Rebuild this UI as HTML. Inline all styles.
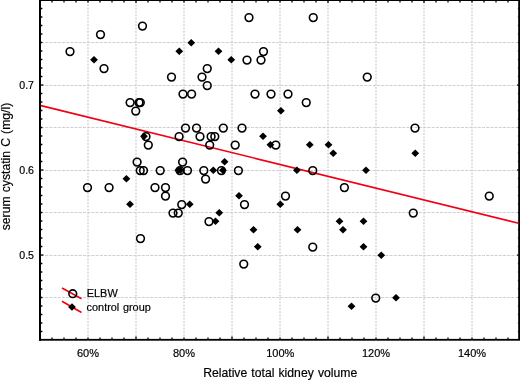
<!DOCTYPE html>
<html><head><meta charset="utf-8"><title>Scatter plot</title>
<style>
html,body{margin:0;padding:0;background:#fff;}
body{width:520px;height:380px;overflow:hidden;position:relative;font-family:"Liberation Sans",Arial,sans-serif;}
svg{position:absolute;left:0;top:0;display:block;}
text{font-family:"Liberation Sans",Arial,sans-serif;fill:#000;stroke:#000;stroke-width:0.18px;}
.tk{font-size:11px;}
.tky{font-size:10.6px;}
.lg{font-size:10.9px;word-spacing:0.6px;}
.ax{font-size:12.2px;word-spacing:0.75px;}
</style></head><body>
<svg width="520" height="380" viewBox="0 0 520 380">
<rect x="0" y="0" width="520" height="380" fill="#fff"/>
<g stroke="#c2c2c2" stroke-width="1" stroke-dasharray="2 1.3" fill="none"><line x1="88" y1="1" x2="88" y2="339"/><line x1="136" y1="1" x2="136" y2="339"/><line x1="184" y1="1" x2="184" y2="339"/><line x1="232" y1="1" x2="232" y2="339"/><line x1="280" y1="1" x2="280" y2="339"/><line x1="328" y1="1" x2="328" y2="339"/><line x1="376" y1="1" x2="376" y2="339"/><line x1="424" y1="1" x2="424" y2="339"/><line x1="472" y1="1" x2="472" y2="339"/></g>
<g stroke="#d0d0d0" stroke-width="1" stroke-dasharray="3 1.2" fill="none"><line x1="41" y1="42.5" x2="519" y2="42.5"/><line x1="41" y1="85.5" x2="519" y2="85.5"/><line x1="41" y1="127.5" x2="519" y2="127.5"/><line x1="41" y1="170.5" x2="519" y2="170.5"/><line x1="41" y1="212.5" x2="519" y2="212.5"/><line x1="41" y1="255.5" x2="519" y2="255.5"/><line x1="41" y1="297.5" x2="519" y2="297.5"/></g>
<g fill="#000"><rect x="39" y="0" width="2" height="340.7"/><rect x="39" y="338.9" width="481" height="1.8"/><rect x="39" y="0" width="481" height="1"/><rect x="518.2" y="0" width="1.8" height="340"/></g>
<g stroke="#000" stroke-width="1.3"><line x1="52" y1="337.6" x2="52" y2="339"/><line x1="52" y1="1" x2="52" y2="2.4"/><line x1="64" y1="337.6" x2="64" y2="339"/><line x1="64" y1="1" x2="64" y2="2.4"/><line x1="76" y1="337.6" x2="76" y2="339"/><line x1="76" y1="1" x2="76" y2="2.4"/><line x1="88" y1="337.6" x2="88" y2="339"/><line x1="88" y1="1" x2="88" y2="2.4"/><line x1="100" y1="337.6" x2="100" y2="339"/><line x1="100" y1="1" x2="100" y2="2.4"/><line x1="112" y1="337.6" x2="112" y2="339"/><line x1="112" y1="1" x2="112" y2="2.4"/><line x1="124" y1="337.6" x2="124" y2="339"/><line x1="124" y1="1" x2="124" y2="2.4"/><line x1="136" y1="336.4" x2="136" y2="339"/><line x1="136" y1="1" x2="136" y2="2.9"/><line x1="148" y1="337.6" x2="148" y2="339"/><line x1="148" y1="1" x2="148" y2="2.4"/><line x1="160" y1="337.6" x2="160" y2="339"/><line x1="160" y1="1" x2="160" y2="2.4"/><line x1="172" y1="337.6" x2="172" y2="339"/><line x1="172" y1="1" x2="172" y2="2.4"/><line x1="184" y1="337.6" x2="184" y2="339"/><line x1="184" y1="1" x2="184" y2="2.4"/><line x1="196" y1="337.6" x2="196" y2="339"/><line x1="196" y1="1" x2="196" y2="2.4"/><line x1="208" y1="337.6" x2="208" y2="339"/><line x1="208" y1="1" x2="208" y2="2.4"/><line x1="220" y1="337.6" x2="220" y2="339"/><line x1="220" y1="1" x2="220" y2="2.4"/><line x1="232" y1="336.4" x2="232" y2="339"/><line x1="232" y1="1" x2="232" y2="2.9"/><line x1="244" y1="337.6" x2="244" y2="339"/><line x1="244" y1="1" x2="244" y2="2.4"/><line x1="256" y1="337.6" x2="256" y2="339"/><line x1="256" y1="1" x2="256" y2="2.4"/><line x1="268" y1="337.6" x2="268" y2="339"/><line x1="268" y1="1" x2="268" y2="2.4"/><line x1="280" y1="337.6" x2="280" y2="339"/><line x1="280" y1="1" x2="280" y2="2.4"/><line x1="292" y1="337.6" x2="292" y2="339"/><line x1="292" y1="1" x2="292" y2="2.4"/><line x1="304" y1="337.6" x2="304" y2="339"/><line x1="304" y1="1" x2="304" y2="2.4"/><line x1="316" y1="337.6" x2="316" y2="339"/><line x1="316" y1="1" x2="316" y2="2.4"/><line x1="328" y1="336.4" x2="328" y2="339"/><line x1="328" y1="1" x2="328" y2="2.9"/><line x1="340" y1="337.6" x2="340" y2="339"/><line x1="340" y1="1" x2="340" y2="2.4"/><line x1="352" y1="337.6" x2="352" y2="339"/><line x1="352" y1="1" x2="352" y2="2.4"/><line x1="364" y1="337.6" x2="364" y2="339"/><line x1="364" y1="1" x2="364" y2="2.4"/><line x1="376" y1="337.6" x2="376" y2="339"/><line x1="376" y1="1" x2="376" y2="2.4"/><line x1="388" y1="337.6" x2="388" y2="339"/><line x1="388" y1="1" x2="388" y2="2.4"/><line x1="400" y1="337.6" x2="400" y2="339"/><line x1="400" y1="1" x2="400" y2="2.4"/><line x1="412" y1="337.6" x2="412" y2="339"/><line x1="412" y1="1" x2="412" y2="2.4"/><line x1="424" y1="336.4" x2="424" y2="339"/><line x1="424" y1="1" x2="424" y2="2.9"/><line x1="436" y1="337.6" x2="436" y2="339"/><line x1="436" y1="1" x2="436" y2="2.4"/><line x1="448" y1="337.6" x2="448" y2="339"/><line x1="448" y1="1" x2="448" y2="2.4"/><line x1="460" y1="337.6" x2="460" y2="339"/><line x1="460" y1="1" x2="460" y2="2.4"/><line x1="472" y1="337.6" x2="472" y2="339"/><line x1="472" y1="1" x2="472" y2="2.4"/><line x1="484" y1="337.6" x2="484" y2="339"/><line x1="484" y1="1" x2="484" y2="2.4"/><line x1="496" y1="337.6" x2="496" y2="339"/><line x1="496" y1="1" x2="496" y2="2.4"/><line x1="508" y1="337.6" x2="508" y2="339"/><line x1="508" y1="1" x2="508" y2="2.4"/><line x1="41" y1="8.5" x2="42.4" y2="8.5"/><line x1="517.9" y1="8.5" x2="518.5" y2="8.5"/><line x1="41" y1="17.0" x2="42.4" y2="17.0"/><line x1="517.9" y1="17.0" x2="518.5" y2="17.0"/><line x1="41" y1="25.5" x2="42.4" y2="25.5"/><line x1="517.9" y1="25.5" x2="518.5" y2="25.5"/><line x1="41" y1="34.0" x2="42.4" y2="34.0"/><line x1="517.9" y1="34.0" x2="518.5" y2="34.0"/><line x1="41" y1="42.5" x2="42.4" y2="42.5"/><line x1="517.9" y1="42.5" x2="518.5" y2="42.5"/><line x1="41" y1="51.0" x2="42.4" y2="51.0"/><line x1="517.9" y1="51.0" x2="518.5" y2="51.0"/><line x1="41" y1="59.5" x2="42.4" y2="59.5"/><line x1="517.9" y1="59.5" x2="518.5" y2="59.5"/><line x1="41" y1="68.0" x2="42.4" y2="68.0"/><line x1="517.9" y1="68.0" x2="518.5" y2="68.0"/><line x1="41" y1="76.5" x2="42.4" y2="76.5"/><line x1="517.9" y1="76.5" x2="518.5" y2="76.5"/><line x1="41" y1="85.0" x2="43.4" y2="85.0"/><line x1="517.2" y1="85.0" x2="518.5" y2="85.0"/><line x1="41" y1="93.5" x2="42.4" y2="93.5"/><line x1="517.9" y1="93.5" x2="518.5" y2="93.5"/><line x1="41" y1="102.0" x2="42.4" y2="102.0"/><line x1="517.9" y1="102.0" x2="518.5" y2="102.0"/><line x1="41" y1="110.5" x2="42.4" y2="110.5"/><line x1="517.9" y1="110.5" x2="518.5" y2="110.5"/><line x1="41" y1="119.0" x2="42.4" y2="119.0"/><line x1="517.9" y1="119.0" x2="518.5" y2="119.0"/><line x1="41" y1="127.5" x2="42.4" y2="127.5"/><line x1="517.9" y1="127.5" x2="518.5" y2="127.5"/><line x1="41" y1="136.0" x2="42.4" y2="136.0"/><line x1="517.9" y1="136.0" x2="518.5" y2="136.0"/><line x1="41" y1="144.5" x2="42.4" y2="144.5"/><line x1="517.9" y1="144.5" x2="518.5" y2="144.5"/><line x1="41" y1="153.0" x2="42.4" y2="153.0"/><line x1="517.9" y1="153.0" x2="518.5" y2="153.0"/><line x1="41" y1="161.5" x2="42.4" y2="161.5"/><line x1="517.9" y1="161.5" x2="518.5" y2="161.5"/><line x1="41" y1="170.0" x2="43.4" y2="170.0"/><line x1="517.2" y1="170.0" x2="518.5" y2="170.0"/><line x1="41" y1="178.5" x2="42.4" y2="178.5"/><line x1="517.9" y1="178.5" x2="518.5" y2="178.5"/><line x1="41" y1="187.0" x2="42.4" y2="187.0"/><line x1="517.9" y1="187.0" x2="518.5" y2="187.0"/><line x1="41" y1="195.5" x2="42.4" y2="195.5"/><line x1="517.9" y1="195.5" x2="518.5" y2="195.5"/><line x1="41" y1="204.0" x2="42.4" y2="204.0"/><line x1="517.9" y1="204.0" x2="518.5" y2="204.0"/><line x1="41" y1="212.5" x2="42.4" y2="212.5"/><line x1="517.9" y1="212.5" x2="518.5" y2="212.5"/><line x1="41" y1="221.0" x2="42.4" y2="221.0"/><line x1="517.9" y1="221.0" x2="518.5" y2="221.0"/><line x1="41" y1="229.5" x2="42.4" y2="229.5"/><line x1="517.9" y1="229.5" x2="518.5" y2="229.5"/><line x1="41" y1="238.0" x2="42.4" y2="238.0"/><line x1="517.9" y1="238.0" x2="518.5" y2="238.0"/><line x1="41" y1="246.5" x2="42.4" y2="246.5"/><line x1="517.9" y1="246.5" x2="518.5" y2="246.5"/><line x1="41" y1="255.0" x2="43.4" y2="255.0"/><line x1="517.2" y1="255.0" x2="518.5" y2="255.0"/><line x1="41" y1="263.5" x2="42.4" y2="263.5"/><line x1="517.9" y1="263.5" x2="518.5" y2="263.5"/><line x1="41" y1="272.0" x2="42.4" y2="272.0"/><line x1="517.9" y1="272.0" x2="518.5" y2="272.0"/><line x1="41" y1="280.5" x2="42.4" y2="280.5"/><line x1="517.9" y1="280.5" x2="518.5" y2="280.5"/><line x1="41" y1="289.0" x2="42.4" y2="289.0"/><line x1="517.9" y1="289.0" x2="518.5" y2="289.0"/><line x1="41" y1="297.5" x2="42.4" y2="297.5"/><line x1="517.9" y1="297.5" x2="518.5" y2="297.5"/><line x1="41" y1="306.0" x2="42.4" y2="306.0"/><line x1="517.9" y1="306.0" x2="518.5" y2="306.0"/><line x1="41" y1="314.5" x2="42.4" y2="314.5"/><line x1="517.9" y1="314.5" x2="518.5" y2="314.5"/><line x1="41" y1="323.0" x2="42.4" y2="323.0"/><line x1="517.9" y1="323.0" x2="518.5" y2="323.0"/><line x1="41" y1="331.5" x2="42.4" y2="331.5"/><line x1="517.9" y1="331.5" x2="518.5" y2="331.5"/></g>
<line x1="41" y1="105.6" x2="518.5" y2="223.2" stroke="#f00014" stroke-width="1.6"/>
<g fill="#000"><path d="M90.10 59.70L94.00 55.90L97.90 59.70L94.00 63.50Z"/><path d="M175.35 51.20L179.25 47.40L183.15 51.20L179.25 55.00Z"/><path d="M187.35 42.70L191.25 38.90L195.15 42.70L191.25 46.50Z"/><path d="M214.60 51.20L218.50 47.40L222.40 51.20L218.50 55.00Z"/><path d="M227.35 59.70L231.25 55.90L235.15 59.70L231.25 63.50Z"/><path d="M277.00 110.70L280.90 106.90L284.80 110.70L280.90 114.50Z"/><path d="M259.10 136.20L263.00 132.40L266.90 136.20L263.00 140.00Z"/><path d="M140.10 136.20L144.00 132.40L147.90 136.20L144.00 140.00Z"/><path d="M266.50 144.70L270.40 140.90L274.30 144.70L270.40 148.50Z"/><path d="M305.85 144.70L309.75 140.90L313.65 144.70L309.75 148.50Z"/><path d="M324.60 144.70L328.50 140.90L332.40 144.70L328.50 148.50Z"/><path d="M329.35 153.20L333.25 149.40L337.15 153.20L333.25 157.00Z"/><path d="M411.35 153.20L415.25 149.40L419.15 153.20L415.25 157.00Z"/><path d="M220.70 161.70L224.60 157.90L228.50 161.70L224.60 165.50Z"/><path d="M174.30 170.20L178.20 166.40L182.10 170.20L178.20 174.00Z"/><path d="M176.40 170.20L180.30 166.40L184.20 170.20L180.30 174.00Z"/><path d="M209.40 170.20L213.30 166.40L217.20 170.20L213.30 174.00Z"/><path d="M219.00 170.20L222.90 166.40L226.80 170.20L222.90 174.00Z"/><path d="M293.00 170.20L296.90 166.40L300.80 170.20L296.90 174.00Z"/><path d="M362.10 170.20L366.00 166.40L369.90 170.20L366.00 174.00Z"/><path d="M122.50 178.70L126.40 174.90L130.30 178.70L126.40 182.50Z"/><path d="M235.10 195.70L239.00 191.90L242.90 195.70L239.00 199.50Z"/><path d="M126.10 204.20L130.00 200.40L133.90 204.20L130.00 208.00Z"/><path d="M185.85 204.20L189.75 200.40L193.65 204.20L189.75 208.00Z"/><path d="M276.40 204.20L280.30 200.40L284.20 204.20L280.30 208.00Z"/><path d="M215.35 212.70L219.25 208.90L223.15 212.70L219.25 216.50Z"/><path d="M211.60 221.20L215.50 217.40L219.40 221.20L215.50 225.00Z"/><path d="M335.60 221.20L339.50 217.40L343.40 221.20L339.50 225.00Z"/><path d="M359.60 221.20L363.50 217.40L367.40 221.20L363.50 225.00Z"/><path d="M249.60 229.70L253.50 225.90L257.40 229.70L253.50 233.50Z"/><path d="M293.60 229.70L297.50 225.90L301.40 229.70L297.50 233.50Z"/><path d="M339.10 229.70L343.00 225.90L346.90 229.70L343.00 233.50Z"/><path d="M253.85 246.70L257.75 242.90L261.65 246.70L257.75 250.50Z"/><path d="M359.60 246.70L363.50 242.90L367.40 246.70L363.50 250.50Z"/><path d="M377.35 255.20L381.25 251.40L385.15 255.20L381.25 259.00Z"/><path d="M392.10 297.70L396.00 293.90L399.90 297.70L396.00 301.50Z"/><path d="M347.60 306.20L351.50 302.40L355.40 306.20L351.50 310.00Z"/></g>
<g fill="none" stroke="#000" stroke-width="1.6"><circle cx="70" cy="51.60" r="3.85"/><circle cx="100.5" cy="34.60" r="3.85"/><circle cx="104" cy="68.60" r="3.85"/><circle cx="142.5" cy="26.10" r="3.85"/><circle cx="249" cy="17.60" r="3.85"/><circle cx="171.5" cy="77.10" r="3.85"/><circle cx="207.25" cy="68.60" r="3.85"/><circle cx="202" cy="77.10" r="3.85"/><circle cx="207.25" cy="85.60" r="3.85"/><circle cx="247" cy="60.10" r="3.85"/><circle cx="261" cy="60.10" r="3.85"/><circle cx="263.5" cy="51.60" r="3.85"/><circle cx="313.25" cy="17.60" r="3.85"/><circle cx="367.25" cy="77.10" r="3.85"/><circle cx="183" cy="94.10" r="3.85"/><circle cx="191.6" cy="94.10" r="3.85"/><circle cx="255" cy="94.10" r="3.85"/><circle cx="271" cy="94.10" r="3.85"/><circle cx="288" cy="94.10" r="3.85"/><circle cx="130.1" cy="102.60" r="3.85"/><circle cx="139" cy="102.60" r="3.85"/><circle cx="140.3" cy="102.60" r="3.85"/><circle cx="306.25" cy="102.60" r="3.85"/><circle cx="135.75" cy="111.10" r="3.85"/><circle cx="185.5" cy="128.10" r="3.85"/><circle cx="196.5" cy="128.10" r="3.85"/><circle cx="223.3" cy="128.10" r="3.85"/><circle cx="242" cy="128.10" r="3.85"/><circle cx="415" cy="128.10" r="3.85"/><circle cx="146" cy="136.60" r="3.85"/><circle cx="179.1" cy="136.60" r="3.85"/><circle cx="200" cy="136.60" r="3.85"/><circle cx="211.1" cy="136.60" r="3.85"/><circle cx="214.8" cy="136.60" r="3.85"/><circle cx="148.3" cy="145.10" r="3.85"/><circle cx="209.7" cy="145.10" r="3.85"/><circle cx="235.2" cy="145.10" r="3.85"/><circle cx="275.8" cy="145.10" r="3.85"/><circle cx="137.1" cy="162.10" r="3.85"/><circle cx="182.6" cy="162.10" r="3.85"/><circle cx="140.2" cy="170.60" r="3.85"/><circle cx="143.5" cy="170.60" r="3.85"/><circle cx="160.2" cy="170.60" r="3.85"/><circle cx="180" cy="170.60" r="3.85"/><circle cx="187.5" cy="170.60" r="3.85"/><circle cx="203.8" cy="170.60" r="3.85"/><circle cx="221.4" cy="170.60" r="3.85"/><circle cx="238.4" cy="170.60" r="3.85"/><circle cx="312.75" cy="170.60" r="3.85"/><circle cx="205.6" cy="179.10" r="3.85"/><circle cx="87.5" cy="187.60" r="3.85"/><circle cx="109.1" cy="187.60" r="3.85"/><circle cx="155" cy="187.60" r="3.85"/><circle cx="165.5" cy="187.60" r="3.85"/><circle cx="344.4" cy="187.60" r="3.85"/><circle cx="165.5" cy="196.10" r="3.85"/><circle cx="285.5" cy="196.10" r="3.85"/><circle cx="489.25" cy="196.10" r="3.85"/><circle cx="181.75" cy="204.60" r="3.85"/><circle cx="244.5" cy="204.60" r="3.85"/><circle cx="173" cy="213.10" r="3.85"/><circle cx="178.25" cy="213.10" r="3.85"/><circle cx="413.25" cy="213.10" r="3.85"/><circle cx="209" cy="221.60" r="3.85"/><circle cx="140.5" cy="238.60" r="3.85"/><circle cx="312.75" cy="247.10" r="3.85"/><circle cx="243.75" cy="264.10" r="3.85"/><circle cx="375.75" cy="298.10" r="3.85"/></g>
<line x1="62" y1="288" x2="81.5" y2="298.8" stroke="#f00014" stroke-width="1.6"/><line x1="62" y1="301.3" x2="81.5" y2="312.5" stroke="#f00014" stroke-width="1.6"/><circle cx="72.75" cy="293.7" r="3.85" fill="none" stroke="#000" stroke-width="1.6"/><path d="M68.1 307L72 303.2L75.9 307L72 310.8Z" fill="#000"/>
<text class="lg" x="86.8" y="297.2">ELBW</text><text class="lg" x="86.6" y="311.3">control group</text>
<text class="tk" x="88" y="356.8" text-anchor="middle">60%</text><text class="tk" x="184" y="356.8" text-anchor="middle">80%</text><text class="tk" x="280.3" y="356.8" text-anchor="middle">100%</text><text class="tk" x="376" y="356.8" text-anchor="middle">120%</text><text class="tk" x="472" y="356.8" text-anchor="middle">140%</text><text class="tky" x="34" y="89.0" text-anchor="end">0.7</text><text class="tky" x="34" y="174.0" text-anchor="end">0.6</text><text class="tky" x="34" y="259.0" text-anchor="end">0.5</text>
<text class="ax" x="280.2" y="376.8" text-anchor="middle">Relative total kidney volume</text><text class="ax" transform="translate(9.5 166.5) rotate(-90)" text-anchor="middle">serum cystatin C (mg/l)</text>
</svg></body></html>
